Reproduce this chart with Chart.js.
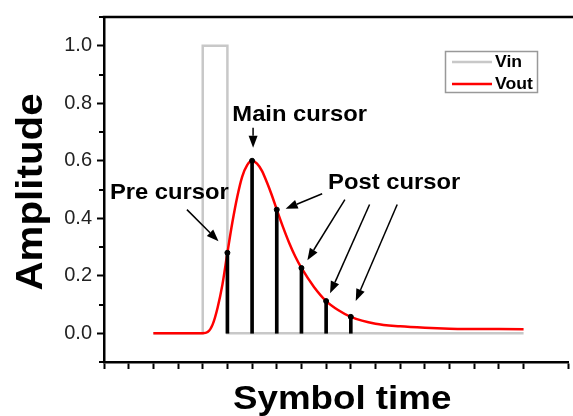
<!DOCTYPE html>
<html>
<head>
<meta charset="utf-8">
<title>Symbol time response</title>
<script src="https://cdn.jsdelivr.net/npm/chart.js@4/dist/chart.umd.min.js"></script>
<style>
  html, body { margin: 0; padding: 0; background: #fff; }
  canvas { display: block; }
</style>
</head>
<body>
<canvas id="pulseChart" width="573" height="416"></canvas>
<script>
// input pulse (Vin)
const vinTimes = [2, 4, 4, 5, 5, 17];
const vinValues = [0, 0, 1, 1, 0, 0];

// channel response (Vout)
const voutTimes = [2, 3, 4, 4.2, 4.4, 4.6, 4.8, 5, 5.2, 5.4, 5.6, 5.8, 6, 6.2, 6.4, 6.6, 6.8, 7,
  7.25, 7.5, 7.75, 8, 8.5, 9, 9.5, 10, 11, 12, 13, 14, 15, 16, 17];
const voutValues = [0, 0, 0, 0.004, 0.03, 0.088, 0.17, 0.28, 0.385, 0.475, 0.545, 0.585, 0.60, 0.59,
  0.565, 0.525, 0.48, 0.43, 0.37, 0.315, 0.267, 0.227, 0.162, 0.112, 0.08, 0.057, 0.033, 0.024,
  0.019, 0.016, 0.015, 0.0145, 0.014];

// sampled cursors, one per symbol time
const cursorTimes = [5, 6, 7, 8, 9, 10];
const cursorValues = [0.28, 0.60, 0.43, 0.227, 0.112, 0.057];

// y tick labels
const yTickLabels = ['0.0', '0.2', '0.4', '0.6', '0.8', '1.0'];

// annotation labels and arrows, in data units
const labels = [
  { text: 'Main cursor', x: 5.2, y: 0.738 },
  { text: 'Pre cursor', x: 0.24, y: 0.468 },
  { text: 'Post cursor', x: 9.08, y: 0.503 }
];
const arrows = [
  { from: [6.04, 0.715], to: [6.04, 0.645] },
  { from: [3.36, 0.43], to: [4.64, 0.32] },
  { from: [8.84, 0.485], to: [7.36, 0.433] },
  { from: [9.76, 0.465], to: [8.24, 0.254] },
  { from: [10.76, 0.448], to: [9.16, 0.139] },
  { from: [11.88, 0.448], to: [10.2, 0.112] }
];

const toPoints = (xs, ys) => xs.map((x, i) => ({ x: x, y: ys[i] }));

function stretchedText(ctx, text, x, y, font, sx) {
  ctx.save();
  ctx.translate(x, y);
  ctx.scale(sx, 1);
  ctx.font = font;
  ctx.fillText(text, 0, 0);
  ctx.restore();
}

function arrow(ctx, x1, y1, x2, y2) {
  const ang = Math.atan2(y2 - y1, x2 - x1);
  const len = 12, half = 4.5;
  const bx = x2 - len * Math.cos(ang), by = y2 - len * Math.sin(ang);
  ctx.beginPath();
  ctx.moveTo(x1, y1);
  ctx.lineTo(bx, by);
  ctx.stroke();
  ctx.beginPath();
  ctx.moveTo(x2, y2);
  ctx.lineTo(bx + half * Math.sin(ang), by - half * Math.cos(ang));
  ctx.lineTo(bx - half * Math.sin(ang), by + half * Math.cos(ang));
  ctx.closePath();
  ctx.fill();
}

// frame, minor ticks, titles, annotations and legend
const decorations = {
  id: 'decorations',
  afterDraw(chart) {
    const ctx = chart.ctx;
    const xs = chart.scales.x, ys = chart.scales.y;
    const area = chart.chartArea;
    ctx.save();

    // top frame line
    ctx.strokeStyle = '#000';
    ctx.lineWidth = 2.5;
    ctx.beginPath();
    ctx.moveTo(area.left - 1.25, area.top);
    ctx.lineTo(area.right + 5, area.top);
    ctx.stroke();

    // minor y ticks
    ctx.lineWidth = 2;
    for (let k = -1; k <= 11; k += 2) {
      const py = Math.round(ys.getPixelForValue(k / 10));
      ctx.beginPath();
      ctx.moveTo(area.left, py);
      ctx.lineTo(area.left - 5, py);
      ctx.stroke();
    }

    ctx.fillStyle = '#000';

    // axis titles
    ctx.textAlign = 'left';
    ctx.textBaseline = 'alphabetic';
    stretchedText(ctx, 'Symbol time', 233, 409, 'bold 34px "Liberation Sans", Arial, sans-serif', 1.08);
    ctx.save();
    ctx.translate(42, 192);
    ctx.rotate(-Math.PI / 2);
    ctx.scale(1.09, 1);
    ctx.textAlign = 'center';
    ctx.font = 'bold 37px "Liberation Sans", Arial, sans-serif';
    ctx.fillText('Amplitude', 0, 0);
    ctx.restore();

    // cursor labels
    labels.forEach(l => {
      stretchedText(ctx, l.text, xs.getPixelForValue(l.x), ys.getPixelForValue(l.y),
        'bold 22px "Liberation Sans", Arial, sans-serif', 1.08);
    });

    // arrows
    ctx.lineWidth = 1.5;
    arrows.forEach(a => {
      arrow(ctx,
        xs.getPixelForValue(a.from[0]), ys.getPixelForValue(a.from[1]),
        xs.getPixelForValue(a.to[0]), ys.getPixelForValue(a.to[1]));
    });

    // legend box
    ctx.strokeStyle = '#999';
    ctx.lineWidth = 1.5;
    ctx.strokeRect(445.5, 51.5, 92, 41);
    const entries = chart.data.datasets.filter(d => d.label === 'Vin' || d.label === 'Vout');
    entries.forEach((d, i) => {
      const ly = 62 + i * 22;
      ctx.strokeStyle = d.borderColor;
      ctx.lineWidth = 2.5;
      ctx.beginPath();
      ctx.moveTo(452, ly);
      ctx.lineTo(492, ly);
      ctx.stroke();
      ctx.fillStyle = '#000';
      ctx.textBaseline = 'middle';
      stretchedText(ctx, d.label, 495, ly + 1, 'bold 16px "Liberation Sans", Arial, sans-serif', 1.1);
    });

    ctx.restore();
  }
};

new Chart(document.getElementById('pulseChart'), {
  type: 'scatter',
  data: {
    datasets: [
      {
        type: 'line',
        label: 'Vin',
        data: toPoints(vinTimes, vinValues),
        borderColor: '#c8c8c8',
        borderWidth: 2.5,
        pointRadius: 0,
        tension: 0,
        order: 4
      },
      {
        type: 'line',
        label: 'Vout',
        data: toPoints(voutTimes, voutValues),
        borderColor: '#ff0000',
        borderWidth: 2.5,
        pointRadius: 0,
        cubicInterpolationMode: 'monotone',
        order: 3
      },
      {
        type: 'bar',
        label: 'cursors',
        data: toPoints(cursorTimes, cursorValues),
        backgroundColor: '#000',
        barThickness: 3,
        order: 2
      },
      {
        type: 'scatter',
        label: 'samples',
        data: toPoints(cursorTimes, cursorValues),
        backgroundColor: '#000',
        borderColor: '#000',
        pointRadius: 2.5,
        order: 1
      }
    ]
  },
  options: {
    responsive: false,
    devicePixelRatio: 1,
    animation: false,
    layout: { padding: { top: 14, right: 0, left: 0, bottom: 0 } },
    plugins: {
      legend: { display: false },
      tooltip: { enabled: false }
    },
    scales: {
      x: {
        type: 'linear',
        min: 0,
        max: 18.8,
        offset: false,
        afterFit: s => { s.height = 54; },
        ticks: { stepSize: 1, display: false },
        grid: {
          offset: false,
          drawOnChartArea: false,
          tickLength: 7,
          tickWidth: 2,
          tickColor: '#000'
        },
        border: { color: '#000', width: 2.5 }
      },
      y: {
        min: -0.1,
        max: 1.1,
        afterFit: s => { s.width = 104; },
        ticks: {
          stepSize: 0.1,
          padding: 5,
          color: '#222',
          font: { family: '"Liberation Sans", Arial, sans-serif', size: 20 },
          callback: v => {
            const k = Math.round(v * 10);
            return (k >= 0 && k % 2 === 0) ? yTickLabels[k / 2] : '';
          }
        },
        grid: {
          drawOnChartArea: false,
          tickLength: 7,
          tickWidth: 2,
          tickColor: c => {
            const k = Math.round(c.tick.value * 10);
            return (k >= 0 && k <= 10 && k % 2 === 0) ? '#000' : 'rgba(0,0,0,0)';
          }
        },
        border: { color: '#000', width: 2.5 }
      }
    }
  },
  plugins: [decorations]
});
</script>
</body>
</html>
